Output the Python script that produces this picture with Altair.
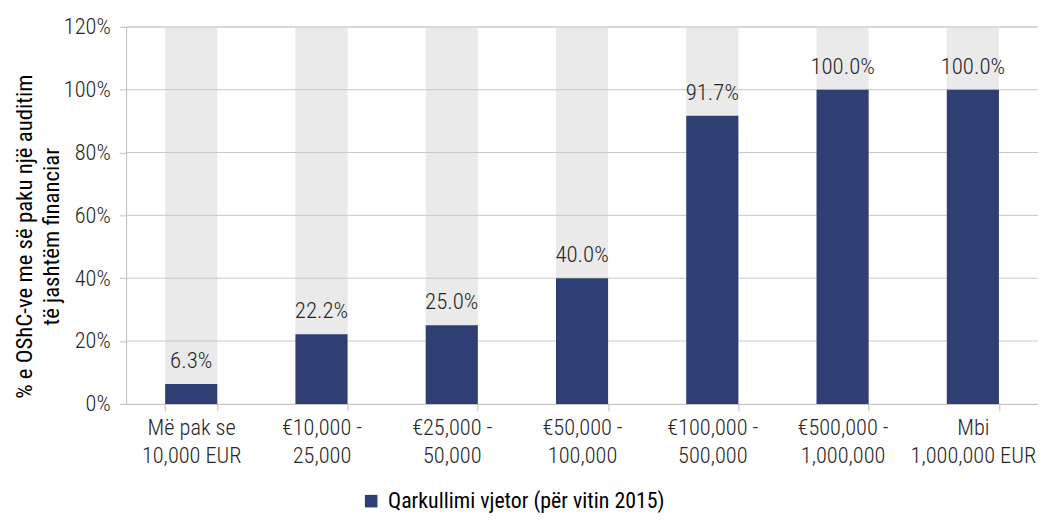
import altair as alt
import pandas as pd

categories = [
    "Më pak se\n10,000 EUR",
    "€10,000 -\n25,000",
    "€25,000 -\n50,000",
    "€50,000 -\n100,000",
    "€100,000 -\n500,000",
    "€500,000 -\n1,000,000",
    "Mbi\n1,000,000 EUR",
]
values = [6.3, 22.2, 25.0, 40.0, 91.7, 100.0, 100.0]
value_labels = ["6.3%", "22.2%", "25.0%", "40.0%", "91.7%", "100.0%", "100.0%"]
background = [120, 120, 120, 120, 120, 120, 120]
grid_values = [20, 40, 60, 80, 100, 120]
y_ticks = [0, 20, 40, 60, 80, 100, 120]
series_name = "Qarkullimi vjetor (për vitin 2015)"
y_title = ["% e OShC-ve me së paku një auditim", "të jashtëm financiar"]

FONT = "Roboto Condensed, Liberation Sans Narrow, DejaVu Sans Condensed, sans-serif"
W = 300
FS = 22.5
BLUE = "#2F3F73"
GREY_BG = "#EAEAEA"
GRID = "#C8C8C8"
TEXT = "#262626"

df = pd.DataFrame({
    "cat": categories,
    "value": values,
    "label": value_labels,
    "bg": background,
    "series": [series_name] * len(categories),
})
grid_df = pd.DataFrame({"g": grid_values})

x_enc = alt.X(
    "cat:N",
    sort=categories,
    scale=alt.Scale(paddingInner=0.6, paddingOuter=0.3),
    axis=alt.Axis(
        title=None,
        labelExpr="split(datum.label, '\\n')",
        labelAngle=0,
        labelFontSize=FS,
        labelFontWeight=W,
        labelLineHeight=28,
        labelColor=TEXT,
        labelFont=FONT,
        labelPadding=6,
        tickBand="extent",
        tickSize=7,
        tickColor="#BFBFBF",
        domainColor="#BFBFBF",
        grid=False,
    ),
)
y_scale = alt.Scale(domain=[0, 120], nice=False)

bg = alt.Chart(df).mark_bar(color=GREY_BG).encode(
    x=x_enc,
    y=alt.Y(
        "bg:Q",
        scale=y_scale,
        axis=alt.Axis(
            values=y_ticks,
            labelExpr="datum.value + '%'",
            labelFontSize=FS,
            labelFontWeight=W,
            labelColor=TEXT,
            labelFont=FONT,
            labelPadding=9,
            tickSize=7,
            tickColor="#BFBFBF",
            domainColor="#BFBFBF",
            grid=False,
            title=y_title,
            titleFont=FONT,
            titleFontSize=23,
            titleFontWeight="normal",
            titleColor="#000000",
            titleLineHeight=27,
            titleAngle=270,
            titleAlign="center",
            titleBaseline="bottom",
            titleX=-90,
            titleY=211,
        ),
    ),
)

grid = alt.Chart(grid_df).mark_rule(color=GRID, strokeWidth=1).encode(
    y=alt.Y("g:Q", scale=y_scale)
)

bars = alt.Chart(df).mark_bar().encode(
    x=alt.X("cat:N", sort=categories),
    y=alt.Y("value:Q", scale=y_scale),
    color=alt.Color(
        "series:N",
        scale=alt.Scale(range=[BLUE]),
        legend=alt.Legend(
            title=None,
            orient="none",
            legendX=236,
            legendY=467,
            symbolType="square",
            symbolSize=160,
            symbolStrokeWidth=0,
            labelOffset=6,
            labelFontSize=22,
            labelFont=FONT,
            labelColor="#000000",
            labelLimit=500,
        ),
    ),
)

text = alt.Chart(df).mark_text(
    dy=-16, baseline="alphabetic", fontSize=23, fontWeight=W, font=FONT, color=TEXT
).encode(
    x=alt.X("cat:N", sort=categories),
    y=alt.Y("value:Q", scale=y_scale),
    text="label:N",
)

chart = (
    alt.layer(bg, grid, bars, text)
    .properties(
        width=919,
        height=380,
        autosize=alt.AutoSizeParams(type="none"),
        padding={"left": 119, "top": 17, "right": 0, "bottom": 111},
    )
    .configure_view(stroke=None)
    .configure(font=FONT)
)

chart.save("out.html", embed_options={"renderer": "svg", "actions": False})
